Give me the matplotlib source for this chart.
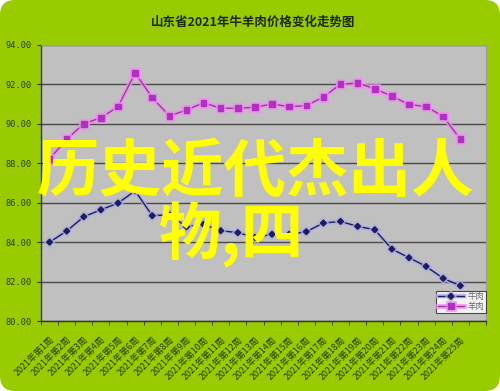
import matplotlib
matplotlib.use("Agg")
import matplotlib.pyplot as plt
import matplotlib.patheffects as pe
from matplotlib.patches import FancyBboxPatch
from matplotlib.ticker import FixedLocator, FormatStrFormatter

plt.rcParams['font.family'] = ['Noto Sans CJK SC', 'DejaVu Sans']

# weekly prices (yuan/kg), 2021 weeks 1-25
weeks = [f"2021年第{i}周" for i in range(1, 26)] + [""]
beef = [84.00, 84.56, 85.29, 85.64, 85.98, 86.60, 85.34, 85.39, 84.78, 84.90,
        84.58, 84.48, 84.24, 84.40, 84.40, 84.53, 84.97, 85.05, 84.80, 84.63,
        83.65, 83.21, 82.77, 82.16, 81.79]
mutton = [88.22, 89.22, 90.00, 90.31, 90.87, 92.58, 91.33, 90.40, 90.70, 91.07,
          90.79, 90.79, 90.84, 91.01, 90.87, 90.92, 91.36, 92.01, 92.07, 91.78,
          91.40, 90.99, 90.87, 90.38, 89.22]
series_names = ["牛肉", "羊肉"]
y_ticks = [80, 82, 84, 86, 88, 90, 92, 94]

fig = plt.figure(figsize=(5.0, 3.91), dpi=100)
fig.patch.set_facecolor("white")

# green rounded backdrop
bg = FancyBboxPatch((0.0, 0.0), 1.0, 1.0, boxstyle="round,pad=0,rounding_size=0.03",
                    transform=fig.transFigure, facecolor="#99cc00", edgecolor="none",
                    zorder=-10, mutation_aspect=500 / 391)
fig.patches.append(bg)

ax = fig.add_axes([0.082, 0.179, 0.890, 0.706])
ax.set_facecolor("#c0c0c0")

x = list(range(len(beef)))
ax.plot(x, beef, color="#1c1c60", lw=1.0, marker="D", ms=3.0,
        mfc="#1c1c60", mec="#1c1c60", label=series_names[0], zorder=3,
        path_effects=[pe.Stroke(linewidth=3.2, foreground="#aeaee0", alpha=0.8), pe.Normal()])
ax.plot(x, mutton, color="#9a3a9a", lw=1.0, marker="s", ms=4.0,
        mfc="#b030c0", mec="#b030c0", label=series_names[1], zorder=3,
        path_effects=[pe.Stroke(linewidth=3.5, foreground="#f090f0", alpha=0.8), pe.Normal()])

ax.set_xlim(-0.5, len(weeks) - 0.5)
ax.set_ylim(80, 94)
ax.yaxis.set_major_locator(FixedLocator(y_ticks))
ax.yaxis.set_major_formatter(FormatStrFormatter("%.2f"))
ax.grid(axis="y", color="#4a4a4a", lw=1.0)
ax.set_axisbelow(True)

ax.set_xticks(range(len(weeks)))
ax.set_xticklabels(weeks, rotation=45, ha="right", va="top", rotation_mode="anchor",
                   fontsize=6.4, color="#2a3a10")
ax.set_xticks([i - 0.5 for i in range(len(weeks) + 1)], minor=True)
ax.tick_params(axis="x", which="major", length=0, pad=10)
ax.tick_params(axis="x", which="minor", length=3, direction="out", color="#333333")
ax.tick_params(axis="y", length=3, color="#333333", labelsize=6.2, labelcolor="#2a3a10", pad=4)
for lab in ax.get_yticklabels():
    lab.set_family(["DejaVu Sans Mono"])

for side in ("left", "bottom"):
    ax.spines[side].set_color("#333333")
    ax.spines[side].set_linewidth(1.0)
for side in ("top", "right"):
    ax.spines[side].set_color("#9a9a9a")
    ax.spines[side].set_linewidth(0.8)

leg = ax.legend(loc="lower right", bbox_to_anchor=(1.0, 0.03), fontsize=6,
                frameon=True, fancybox=False, borderpad=0.2, labelspacing=0.1,
                handlelength=3.2, handletextpad=0.4, borderaxespad=0.0)
leg.get_frame().set_edgecolor("#222222")
leg.get_frame().set_linewidth(0.8)
leg.get_frame().set_facecolor("white")
for t in leg.get_texts():
    t.set_color("#666666")

fig.text(0.506, 0.944, "山东省2021年牛羊肉价格变化走势图", ha="center", va="center",
         fontsize=9, color="#1e2a10", weight="bold")

# overlaid headline
fig.text(0.074, 0.56, "历史近代杰出人", ha="left", va="center", fontsize=45,
         color="#ffff00", weight="bold")
fig.text(0.318, 0.40, "物,四", ha="left", va="center", fontsize=45,
         color="#ffff00", weight="bold")

fig.savefig("out.png", dpi=100, facecolor=fig.get_facecolor())
